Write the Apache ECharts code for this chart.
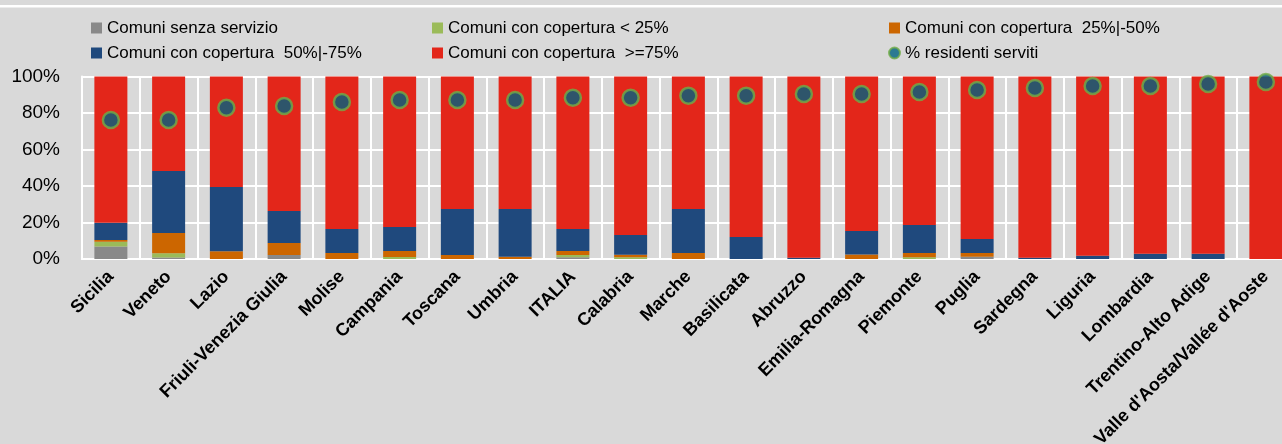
<!DOCTYPE html>
<html>
<head>
<meta charset="utf-8">
<script src="https://cdn.jsdelivr.net/npm/echarts@6/dist/echarts.min.js"></script>
<style>
html,body{margin:0;padding:0;background:#d9d9d9;}
#chart{width:1282px;height:444px;}
</style>
</head>
<body>
<div id="chart"></div>
<script>
const categories = ["Sicilia","Veneto","Lazio","Friuli-Venezia Giulia","Molise","Campania","Toscana","Umbria","ITALIA","Calabria","Marche","Basilicata","Abruzzo","Emilia-Romagna","Piemonte","Puglia","Sardegna","Liguria","Lombardia","Trentino-Alto Adige","Valle d'Aosta/Vallée d'Aoste"];
const senzaServizio = [6.8,0.8,0,2.2,0,0,0,0,0.9,0,0,0,0,0,0,1.3,0,0,0,0,0];
const coperturaLt25 = [2.7,2.4,0,0,0,1.1,0,0,1.3,1.0,0,0,0,0,0.9,0,0,0,0,0,0];
const copertura25_50 = [0.9,11,4.2,6.6,3.3,3.3,2.2,1.3,2.2,1.3,3.3,0,0,2.4,2.4,2.0,0,0,0,0,0];
const copertura50_75 = [9.5,34,35.3,17.5,13.1,13.1,25.2,26.1,12.0,10.9,24.1,12.1,0.7,12.9,15.3,7.7,0.7,1.8,2.9,2.9,0];
const coperturaGe75 = [80.1,51.8,60.5,73.7,83.6,82.5,72.6,72.6,83.6,86.8,72.6,87.9,99.3,84.7,81.4,89.0,99.3,98.2,97.1,97.1,100];
const residentiServiti = [76.2,76.2,82.9,83.8,86.0,87.1,87.1,87.1,88.4,88.4,89.5,89.5,90.4,90.4,91.5,92.6,93.7,94.8,94.8,95.9,97.0];
const yTicks = [0,20,40,60,80,100];

const names = ["Comuni senza servizio","Comuni con copertura < 25%","Comuni con copertura  25%|-50%","Comuni con copertura  50%|-75%","Comuni con copertura  >=75%","% residenti serviti"];
const colors = ["#898989","#9bbb59","#cc6600","#1f497d","#e3261a"];
const stacks = [senzaServizio, coperturaLt25, copertura25_50, copertura50_75, coperturaGe75];

const FONT = "'Liberation Sans',Arial,sans-serif";
const legendFont = {fontFamily:FONT,fontSize:17,color:'#000',lineHeight:22};
function mkLegend(left, items){
  return {orient:'vertical',left:left,top:17,itemGap:3,itemWidth:11,itemHeight:11,padding:0,
    textStyle:legendFont,data:items,selectedMode:false};
}

const chart = echarts.init(document.getElementById('chart'));
const series = stacks.map((d,i)=>({
  name:names[i],type:'bar',stack:'tot',data:d,barWidth:33,
  itemStyle:{color:colors[i]},emphasis:{disabled:true}
}));
series.push({
  name:names[5],type:'scatter',data:residentiServiti,symbol:'circle',symbolSize:16,
  itemStyle:{color:'#00627f',borderColor:'#70ad47',borderWidth:2.5},z:5
});

chart.setOption({
  backgroundColor:'#d9d9d9',
  animation:false,
  graphic:[{type:'rect',left:0,top:5,shape:{width:1282,height:2.5},style:{fill:'#ffffff'}}],
  legend:[
    mkLegend(91,[{name:names[0],icon:'rect'},{name:names[3],icon:'rect'}]),
    mkLegend(432,[{name:names[1],icon:'rect'},{name:names[4],icon:'rect'}]),
    mkLegend(888,[{name:names[2],icon:'rect'},{name:names[5],icon:'circle'}])
  ],
  grid:{left:82,right:-12.75,top:76.5,bottom:185,containLabel:false,outerBoundsMode:'none'},
  xAxis:{type:'category',data:categories,
    axisLine:{show:true,lineStyle:{color:'#ffffff',width:2}},
    axisTick:{show:false},
    splitLine:{show:true,interval:0,lineStyle:{color:'#ffffff',width:2}},
    axisLabel:{interval:0,rotate:45,margin:15,color:'#000',fontWeight:'bold',
      fontFamily:FONT,fontSize:18}
  },
  yAxis:{type:'value',min:yTicks[0],max:yTicks[yTicks.length-1],interval:20,
    axisLine:{show:true,lineStyle:{color:'#ffffff',width:2}},
    axisTick:{show:false},
    splitLine:{show:true,lineStyle:{color:'#ffffff',width:2}},
    axisLabel:{formatter:'{value}%',margin:22,color:'#000',
      fontFamily:FONT,fontSize:19}
  },
  series:series
});
</script>
</body>
</html>
